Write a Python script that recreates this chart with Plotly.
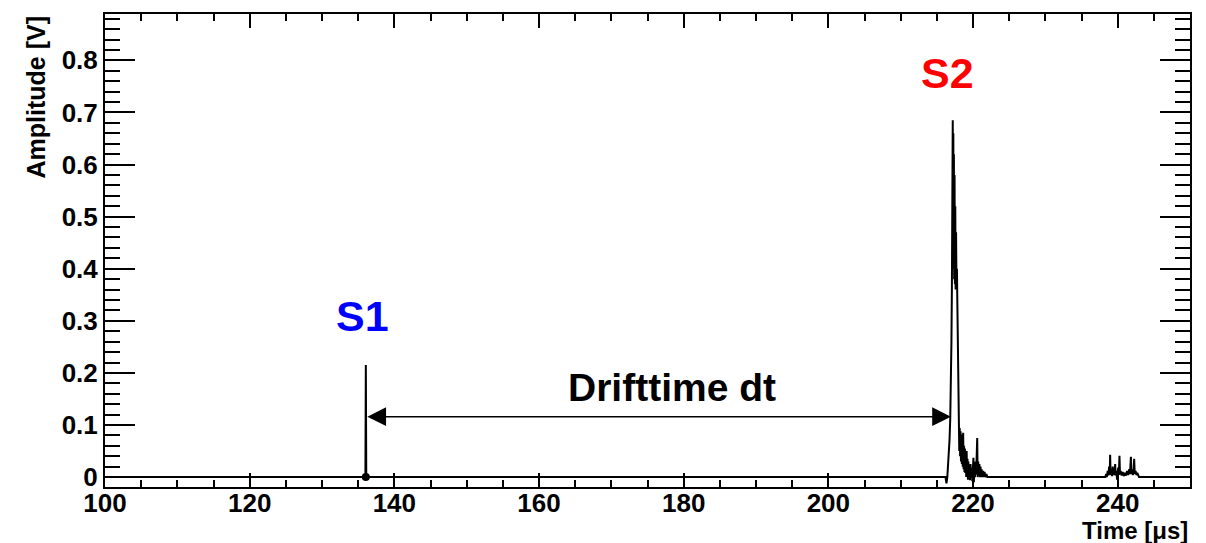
import plotly.graph_objects as go

# Waveform samples: time [us] and amplitude [V]
baseline_t = [100.0, 136.0]
baseline_v = [0.0, 0.0]

s1_t = [136.06, 136.12]
s1_v = [0.215, 0.0]

s2_t = [216.20, 216.33, 216.45, 216.60, 216.75, 216.85, 216.95, 217.02, 217.08,
        217.12, 217.16, 217.20, 217.24, 217.28, 217.32, 217.36, 217.40, 217.45,
        217.50, 217.55, 217.60, 217.66, 217.72, 217.78, 217.84, 217.90, 217.95,
        218.00, 218.05]
s2_v = [0.0, -0.012, 0.0, 0.03, 0.07, 0.11, 0.18, 0.26, 0.36,
        0.47, 0.58, 0.685, 0.45, 0.66, 0.40, 0.62, 0.38, 0.58,
        0.37, 0.52, 0.36, 0.47, 0.36, 0.40, 0.33, 0.25, 0.17,
        0.12, 0.09]

tail_t = [218.10, 218.16, 218.22, 218.28, 218.34, 218.40, 218.46, 218.52, 218.58,
          218.64, 218.70, 218.76, 218.82, 218.88, 218.94, 219.00, 219.06, 219.12,
          219.18, 219.24, 219.30, 219.36, 219.42, 219.50, 219.58, 219.66, 219.74,
          219.82, 219.90, 219.98, 220.06, 220.12, 220.20, 220.28, 220.36, 220.44,
          220.52, 220.58, 220.64, 220.72, 220.80, 220.88, 220.96, 221.04, 221.12,
          221.20, 221.30, 221.40, 221.50, 221.60, 221.72, 221.85, 222.00]
tail_v = [0.05, 0.094, 0.04, 0.088, 0.03, 0.082, 0.025, 0.07, 0.02,
          0.085, 0.015, 0.06, 0.01, 0.055, 0.008, 0.045, 0.0, 0.05,
          0.005, 0.035, -0.005, 0.03, 0.0, 0.02, -0.006, 0.025, 0.0,
          0.018, -0.008, 0.03, 0.037, -0.01, 0.02, 0.0, 0.03, 0.005,
          0.04, 0.075, 0.0, 0.03, 0.002, 0.025, 0.0, 0.02, 0.0,
          0.015, 0.0, 0.012, 0.0, 0.01, 0.0, 0.006, 0.0]

after_t = [238.30, 238.41, 238.50, 238.62, 238.72, 238.82, 238.90, 238.96, 239.02,
           239.12, 239.22, 239.32, 239.42, 239.52, 239.60, 239.65, 239.72, 239.82,
           239.92, 240.00, 240.08, 240.16, 240.25, 240.32, 240.42, 240.55, 240.70,
           240.85, 241.00, 241.15, 241.30, 241.45, 241.60, 241.70, 241.83, 241.90,
           242.00, 242.10, 242.20, 242.28, 242.36, 242.48, 242.60, 242.72, 242.84,
           242.95, 250.0]
after_v = [0.0, 0.006, 0.0, 0.012, 0.003, 0.02, 0.005, 0.043, 0.004,
           0.015, 0.002, 0.02, 0.004, 0.01, 0.006, 0.025, 0.003, 0.012,
           -0.005, 0.008, 0.018, 0.004, 0.041, 0.005, 0.012, 0.003, 0.01,
           0.002, 0.008, 0.003, 0.012, 0.004, 0.015, 0.006, 0.039, 0.006,
           0.015, 0.004, 0.012, 0.035, 0.006, 0.012, 0.004, 0.008, 0.002,
           0.0, 0.0]

time = baseline_t + s1_t + s2_t + tail_t + after_t
amplitude = baseline_v + s1_v + s2_v + tail_v + after_v

# Signal markers
s1_time, s1_amp = 136.06, 0.0
drift_start, drift_end, drift_level = 136.06, 216.95, 0.116

x_range = [100, 250]
y_range = [-0.019, 0.889]

FONT = "Liberation Sans, Arial, Helvetica, sans-serif"

fig = go.Figure()
fig.add_trace(go.Scatter(
    x=time, y=amplitude, mode="lines",
    line=dict(color="black", width=2),
    hoverinfo="skip", showlegend=False,
))
fig.add_trace(go.Scatter(
    x=[s1_time], y=[s1_amp], mode="markers",
    marker=dict(color="black", size=8),
    showlegend=False,
))

axis_common = dict(
    showline=True, linecolor="black", linewidth=2, mirror="allticks",
    ticks="inside", tickcolor="black", tickwidth=1.5,
    showgrid=False, zeroline=False,
    tickfont=dict(family=FONT, size=26, color="black", weight="bold"),
)

fig.update_xaxes(
    range=x_range, tick0=100, dtick=20, ticklen=14, ticklabelstandoff=-8,
    minor=dict(dtick=5, ticks="inside", ticklen=7, tickwidth=1.5, tickcolor="black"),
    **axis_common,
)
fig.update_yaxes(
    range=y_range, tick0=0, dtick=0.1, ticklen=30,
    minor=dict(dtick=0.02, ticks="inside", ticklen=15, tickwidth=1.5, tickcolor="black"),
    **axis_common,
)

annotations = [
    # drift-time double arrow
    dict(x=drift_end, y=drift_level, ax=drift_start, ay=drift_level,
         xref="x", yref="y", axref="x", ayref="y", text="",
         showarrow=True, arrowside="end+start", arrowhead=2, startarrowhead=2,
         arrowsize=2.5, startarrowsize=2.5, arrowwidth=1.5, arrowcolor="black",
         standoff=0, startstandoff=0),
    dict(x=178.4, y=0.172, xref="x", yref="y", text="Drifttime dt",
         showarrow=False, font=dict(family=FONT, size=39, color="black", weight="bold")),
    dict(x=135.64, y=0.309, xref="x", yref="y", text="S1",
         showarrow=False, font=dict(family=FONT, size=43, color="#0000ff", weight="bold")),
    dict(x=216.54, y=0.776, xref="x", yref="y", text="S2",
         showarrow=False, font=dict(family=FONT, size=43, color="#ff0000", weight="bold")),
    # axis titles
    dict(x=1, y=0, xref="paper", yref="paper", xanchor="right", yanchor="top",
         yshift=-28, text="Time [μs]", showarrow=False,
         font=dict(family=FONT, size=24, color="black", weight="bold")),
    dict(x=0, y=1, xref="paper", yref="paper", xanchor="center", yanchor="top",
         xshift=-70, text="Amplitude [V]", textangle=-90, showarrow=False,
         font=dict(family=FONT, size=25, color="black", weight="bold")),
]

fig.update_layout(
    width=1206, height=543,
    margin=dict(l=105, r=16, t=12, b=56),
    paper_bgcolor="white", plot_bgcolor="white",
    annotations=annotations,
    showlegend=False,
)

fig.write_html("out.html")
